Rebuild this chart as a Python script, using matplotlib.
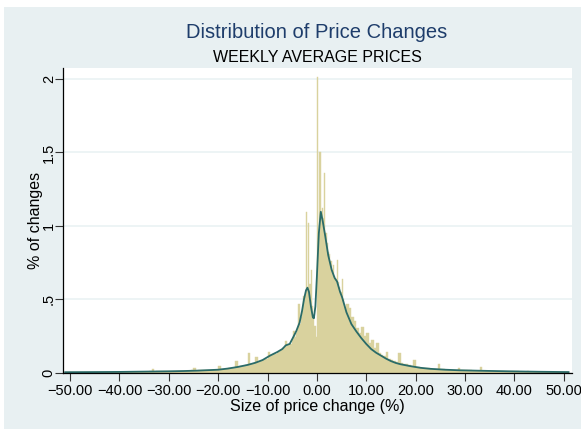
import numpy as np
import matplotlib
matplotlib.use('Agg')
import matplotlib.pyplot as plt
from matplotlib.patches import Rectangle

plt.rcParams['font.family'] = ['Liberation Sans', 'DejaVu Sans']

# --- histogram heights (% of changes) ---
# far left tail, 1-pt bins from -51 to -40
h_far_left = [0.002, 0.002, 0.003, 0.002, 0.003, 0.003, 0.004, 0.003, 0.003, 0.004, 0.004]
# left side, 0.5-pt bins from -40 to -5
h_left = [0.004, 0.003, 0.005, 0.004, 0.004, 0.005, 0.004, 0.005, 0.006, 0.005,
          0.006, 0.005, 0.007, 0.022, 0.006, 0.007, 0.008, 0.007, 0.009, 0.008,
          0.010, 0.008, 0.009, 0.011, 0.010, 0.012, 0.011, 0.013, 0.012, 0.014,
          0.029, 0.013, 0.015, 0.014, 0.016, 0.017, 0.016, 0.019, 0.018, 0.020,
          0.044, 0.022, 0.024, 0.026, 0.030, 0.029, 0.034, 0.080, 0.040, 0.041,
          0.047, 0.048, 0.130, 0.058, 0.062, 0.105, 0.072, 0.078, 0.088, 0.095,
          0.140, 0.118, 0.125, 0.128, 0.140, 0.150, 0.165, 0.217, 0.185, 0.195]
# centre, 0.25-pt bins from -5 to 6
h_centre = [0.22, 0.28, 0.24, 0.27, 0.29, 0.47, 0.33, 0.38, 0.42, 0.52,
            0.53, 1.096, 0.58, 1.017, 0.60, 0.70, 0.45, 0.38, 0.32, 0.24,
            2.016, 0.95, 1.505, 1.08, 1.12, 1.05, 1.36, 0.95, 0.88, 0.82,
            0.81, 0.76, 0.70, 0.73, 0.66, 0.64, 0.767, 0.62, 0.58, 0.55,
            0.64, 0.50, 0.47, 0.44]
# right side, 0.5-pt bins from 6 to 45
h_right = [0.47, 0.437, 0.38, 0.35, 0.30, 0.27, 0.31, 0.25, 0.267, 0.20,
           0.22, 0.17, 0.20, 0.13, 0.12, 0.11, 0.142, 0.092, 0.085, 0.078,
           0.072, 0.135, 0.062, 0.058, 0.055, 0.050, 0.047, 0.085, 0.040, 0.037,
           0.034, 0.033, 0.030, 0.029, 0.027, 0.026, 0.024, 0.056, 0.022, 0.021,
           0.020, 0.019, 0.018, 0.018, 0.017, 0.033, 0.016, 0.015, 0.015, 0.014,
           0.014, 0.013, 0.013, 0.012, 0.040, 0.012, 0.011, 0.011, 0.010, 0.010,
           0.010, 0.009, 0.009, 0.009, 0.008, 0.008, 0.008, 0.007, 0.007, 0.007,
           0.006, 0.006, 0.006, 0.012, 0.006, 0.005, 0.005, 0.005]
# far right tail, 1-pt bins from 45 to 51
h_far_right = [0.005, 0.004, 0.004, 0.003, 0.003, 0.003]

# --- kernel density curve ---
kd_x = [-51, -45, -40, -35, -30, -27, -24, -22, -20, -18, -16, -14, -12.5, -11,
        -9.5, -8, -7, -6.3, -5.5, -4.8, -4.2, -3.5, -3, -2.6, -2.2, -1.9, -1.6,
        -1.2, -0.8, -0.6, -0.3, 0, 0.4, 0.8, 1.2, 1.7, 2.3, 3.0, 3.6, 4.1, 4.7,
        5.1, 6, 7, 8, 9, 10, 11, 12, 13, 14, 15, 16, 17, 19, 21, 23, 26, 29,
        33, 39, 45, 51]
kd_y = [0.002, 0.003, 0.004, 0.006, 0.008, 0.010, 0.013, 0.016, 0.019, 0.027,
        0.038, 0.052, 0.066, 0.085, 0.115, 0.14, 0.16, 0.185, 0.195, 0.24, 0.28,
        0.34, 0.42, 0.50, 0.56, 0.578, 0.55, 0.45, 0.375, 0.37, 0.45, 0.65, 0.95,
        1.096, 1.03, 0.93, 0.80, 0.70, 0.645, 0.62, 0.55, 0.515, 0.41, 0.33, 0.28,
        0.235, 0.195, 0.16, 0.135, 0.115, 0.095, 0.078, 0.065, 0.056, 0.043,
        0.032, 0.025, 0.019, 0.015, 0.012, 0.008, 0.005, 0.003]

x_ticks = [-50, -40, -30, -20, -10, 0, 10, 20, 30, 40, 50]
x_labels = ['\u221250.00', '\u221240.00', '\u221230.00', '\u221220.00', '\u221210.00',
            '0.00', '10.00', '20.00', '30.00', '40.00', '50.00']
y_ticks = [0, 0.5, 1, 1.5, 2]
y_labels = ['0', '.5', '1', '1.5', '2']

bg = '#e8f0f2'
bar_col = '#d9d29e'
line_col = '#2a6b68'
title_col = '#1e3d6b'

W, H = 581, 429
fig = plt.figure(figsize=(W / 100, H / 100), dpi=100)
fig.patch.set_facecolor('white')
fig.patches.append(Rectangle((4 / W, 0), 1 - 4 / W, (H - 7) / H,
                             transform=fig.transFigure, facecolor=bg,
                             edgecolor='none', zorder=-10))

ax = fig.add_axes([62.7 / W, (H - 372.5) / H, (571.5 - 62.7) / W, (372.5 - 68.3) / H])
ax.set_zorder(5)
ax.set_facecolor('white')

# bins
segs = [(np.arange(-51, -40, 1.0), 1.0, h_far_left),
        (np.arange(-40, -5, 0.5), 0.5, h_left),
        (np.arange(-5, 6, 0.25), 0.25, h_centre),
        (np.arange(6, 45, 0.5), 0.5, h_right),
        (np.arange(45, 51, 1.0), 1.0, h_far_right)]
for lefts, w, hs in segs:
    ax.bar(lefts, hs, width=w, align='edge', color=bar_col, edgecolor=bar_col,
           linewidth=0.3, zorder=2)

ax.plot(kd_x, kd_y, color=line_col, lw=1.3, zorder=3)

ax.set_xlim(-51.5, 51.6)
ax.set_ylim(0, 2.074)

ax.set_xticks(x_ticks)
ax.set_xticklabels(x_labels)
ax.set_yticks(y_ticks)
ax.set_yticklabels(y_labels, rotation=90, va='center')
ax.tick_params(axis='both', direction='out', length=6, width=0.8, color='#333333',
               labelsize=10.5, labelcolor='black')
ax.tick_params(axis='y', pad=-1)
ax.tick_params(axis='x', pad=2)

ax.yaxis.grid(True, color='#eaf2f3', lw=1.2, zorder=1)
ax.set_axisbelow(True)
for s in ['top', 'right']:
    ax.spines[s].set_visible(False)
for s in ['left', 'bottom']:
    ax.spines[s].set_color('black')
    ax.spines[s].set_linewidth(0.9)
    ax.spines[s].set_zorder(4)

ax.set_xlabel('Size of price change (%)', fontsize=11.5, labelpad=1)
ax.set_ylabel('% of changes', fontsize=11.5, labelpad=-1)

cx = (62.7 + 571.5) / 2 / W
fig.text(cx, 1 - 33 / H, 'Distribution of Price Changes', color=title_col,
         fontsize=14.5, ha='center', va='center')
fig.text(cx, 1 - 57 / H, 'WEEKLY AVERAGE PRICES', color='black',
         fontsize=11.5, ha='center', va='center')

fig.savefig('out.png', dpi=100, facecolor=fig.get_facecolor())
